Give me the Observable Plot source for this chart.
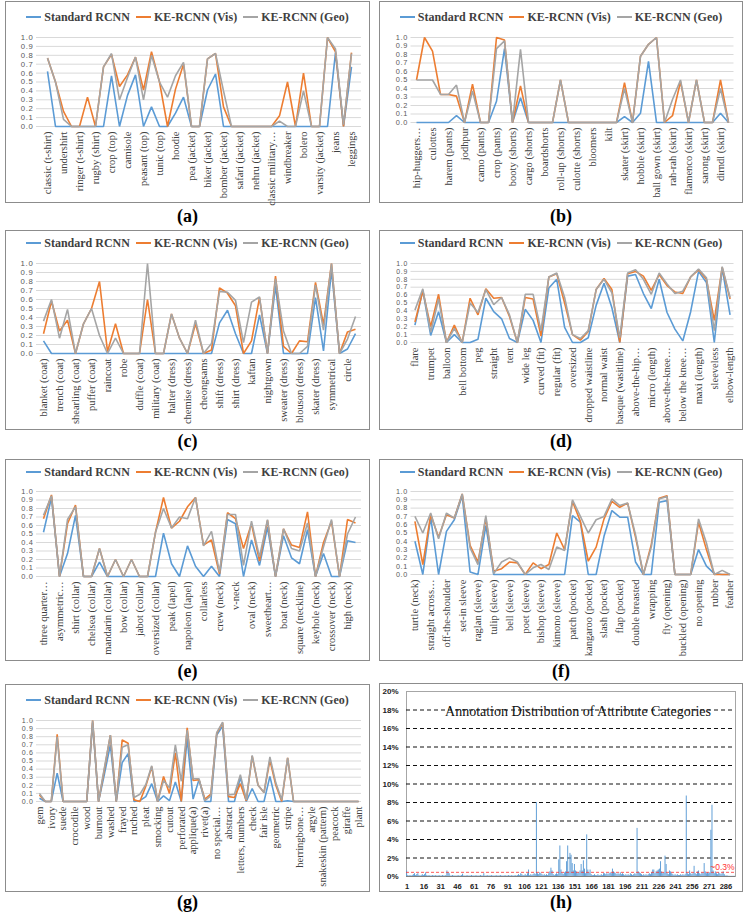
<!DOCTYPE html>
<html><head><meta charset="utf-8">
<script src="https://cdn.jsdelivr.net/npm/d3@7"></script>
<script src="https://cdn.jsdelivr.net/npm/@observablehq/plot@0.6"></script>
<style>
html,body{margin:0;padding:0;background:#fff;}
#page{position:relative;width:747px;height:914px;overflow:hidden;background:#fff;}
.box{position:absolute;border:1.5px solid #8c8c8c;box-sizing:border-box;}
.cap{position:absolute;font:bold 18px "Liberation Serif","Times New Roman",serif;color:#000;text-align:center;line-height:18px;}
.legend{position:absolute;display:flex;justify-content:center;align-items:center;font:bold 12px "Liberation Serif","Times New Roman",serif;color:#404040;white-space:nowrap;line-height:14px;}
.legend .it{display:flex;align-items:center;margin:0 3px;}
.legend .sw{display:inline-block;width:15px;height:2px;margin-right:3px;}
</style>
</head><body><div id="page"></div>
<script>
// ---------- data ----------
const seriesNames = ["Standard RCNN", "KE-RCNN (Vis)", "KE-RCNN (Geo)"];
const seriesColors = ["#5b9bd5", "#ed7d31", "#a5a5a5"];
const yTicks = [0,0.1,0.2,0.3,0.4,0.5,0.6,0.7,0.8,0.9,1.0];

// (a)
const namesA = ["classic (t-shirt)","polo (shirt)","undershirt","henley (shirt)","ringer (t-shirt)","raglan (t-shirt)","rugby (shirt)","sailor (shirt)","crop (top)","halter (top)","camisole","tank (top)","peasant (top)","tube (top)","tunic (top)","smock (top)","hoodie","blazer","pea (jacket)","puffer (jacket)","biker (jacket)","trucker (jacket)","bomber (jacket)","anorak","safari (jacket)","mao (jacket)","nehru (jacket)","norfolk (jacket)","classic military…","track (jacket)","windbreaker","chanel (jacket)","bolero","tuxedo (jacket)","varsity (jacket)","crop (jacket)","jeans","sweatpants","leggings"];
const stdA = [0.62,0,0,0,0,0,0,0,0.57,0,0.35,0.58,0,0.22,0,0,0.15,0.33,0,0,0.41,0.59,0,0,0,0,0,0,0,0,0,0,0,0,0,0,0.83,0,0.67];
const visA = [0.77,0.5,0.17,0,0,0.33,0,0.67,0.81,0.45,0.58,0.78,0.41,0.84,0.5,0,0.42,0.7,0,0,0.76,0.82,0.22,0,0,0,0,0,0,0.12,0.5,0,0.6,0,0,1.0,0.84,0,0.83];
const geoA = [0.77,0.5,0.08,0,0,0,0,0.67,0.82,0.3,0.55,0.78,0.3,0.8,0.5,0.33,0.57,0.72,0,0,0.76,0.82,0.4,0,0,0,0,0,0,0.06,0,0,0.4,0,0,1.0,0.87,0.02,0.82];

// (b)
const namesB = ["hip-huggers…","cargo (pants)","culottes","capri (pants)","harem (pants)","sailor (pants)","jodhpur","peg (pants)","camo (pants)","track (pants)","crop (pants)","short (shorts)","booty (shorts)","bermuda (shorts)","cargo (shorts)","trunks","boardshorts","hot (pants)","roll-up (shorts)","denim (shorts)","culotte (shorts)","bike (shorts)","bloomers","skort","kilt","pencil (skirt)","skater (skirt)","slip (skirt)","hobble (skirt)","tiered (skirt)","ball gown (skirt)","gypsy (skirt)","rah-rah (skirt)","prairie (skirt)","flamenco (skirt)","accordion (skirt)","sarong (skirt)","tulip (skirt)","dirndl (skirt)","tutu (skirt)"];
const stdB = [0,0,0,0,0,0.08,0,0,0,0,0.25,0.87,0,0.29,0,0,0,0,0,0,0,0,0,0,0,0,0.07,0,0.11,0.72,0,0,0,0,0,0,0,0,0.11,0];
const visB = [0.5,1.0,0.84,0.33,0.33,0.31,0,0.45,0,0,1.0,0.97,0,0.43,0,0,0,0,0.5,0,0,0,0,0,0,0,0.47,0,0.78,0.92,1.0,0,0.08,0.48,0,0.5,0,0,0.5,0];
const geoB = [0.5,0.5,0.5,0.33,0.33,0.44,0,0.37,0,0,0.87,0.96,0,0.86,0,0,0,0,0.5,0,0,0,0,0,0,0,0.4,0,0.78,0.92,1.0,0,0.27,0.5,0,0.5,0,0,0.4,0];

// (c)
const namesC = ["blanket (coat)","teddy bear (coat)","trench (coat)","parka","shearling (coat)","crombie (coat)","puffer (coat)","polo (coat)","raincoat","cape","robe","wrap (coat)","duffle (coat)","cocoon (coat)","military (coat)","sheath (dress)","halter (dress)","wrap (dress)","chemise (dress)","slip (dress)","cheongsams","tea (dress)","shift (dress)","tunic (dress)","shirt (dress)","bodycon (dress)","kaftan","jumper (dress)","nightgown","sundress","sweater (dress)","tube (dress)","blouson (dress)","empire (dress)","skater (dress)","tent (dress)","symmetrical","asymmetrical","circle","peplum"];
const stdC = [0.14,0,0,0,0,0,0,0,0,0,0,0,0,0,0,0,0,0,0,0,0,0,0.34,0.48,0.22,0,0,0.43,0,0.75,0,0,0,0,0.62,0.03,0.93,0,0.05,0.22];
const visC = [0.22,0.58,0.25,0.37,0,0.33,0.5,0.8,0.02,0.33,0,0,0,0.6,0,0,0.44,0.17,0,0.33,0,0.04,0.73,0.67,0.53,0,0.14,0.62,0,0.86,0.08,0,0.14,0.13,0.79,0.32,1.0,0,0.24,0.27];
const geoC = [0.36,0.6,0.17,0.49,0,0.33,0.5,0.2,0,0.17,0,0,0,1.0,0,0,0.44,0.17,0,0.37,0,0.11,0.69,0.68,0.59,0.12,0.57,0.63,0,0.83,0.25,0,0,0.08,0.76,0.26,1.0,0,0.16,0.41];

// (d)
const namesD = ["flare","fit and flare","trumpet","mermaid","balloon","bell","bell bottom","bootcut","peg","pencil","straight","a-line","tent","baggy","wide leg","high low","curved (fit)","tight (fit)","regular (fit)","loose (fit)","oversized","empire waistline","dropped waistline","high waist","normal waist","low waist","basque (wasitline)","no waistline","above-the-hip…","hip (length)","micro (length)","mini (length)","above-the-knee…","knee (length)","below the knee…","midi","maxi (length)","floor (length)","sleeveless","short (length)","elbow-length"];
const stdD = [0.22,0.66,0.09,0.39,0,0.1,0,0,0.04,0.56,0.39,0.3,0.05,0,0.42,0.28,0,0.69,0.8,0.19,0,0,0.06,0.47,0.75,0.44,0,0.84,0.86,0.62,0.43,0.8,0.38,0.17,0.02,0.39,0.9,0.76,0,0.94,0.35];
const visD = [0.26,0.65,0.2,0.61,0,0.22,0,0.56,0.35,0.68,0.56,0.57,0.33,0,0.57,0.55,0.08,0.83,0.87,0.5,0.1,0.03,0.14,0.67,0.81,0.67,0,0.87,0.9,0.84,0.66,0.86,0.72,0.64,0.62,0.83,0.92,0.8,0.28,0.95,0.55];
const geoD = [0.41,0.68,0.13,0.55,0,0.18,0,0.5,0.38,0.67,0.48,0.57,0.35,0,0.61,0.61,0.15,0.83,0.88,0.57,0.1,0.05,0.15,0.67,0.8,0.63,0.06,0.88,0.92,0.8,0.61,0.88,0.74,0.62,0.65,0.83,0.93,0.82,0.15,0.96,0.57];

// (e)
const namesE = ["three quarter…","wrist-length","asymmetric…","regular (collar)","shirt (collar)","polo (collar)","chelsea (collar)","banded (collar)","mandarin (collar)","peter pan (collar)","bow (collar)","stand-away (collar)","jabot (collar)","sailor (collar)","oversized (collar)","notched (lapel)","peak (lapel)","shawl (lapel)","napoleon (lapel)","oversized (lapel)","collarless","asymmetric (neckline)","crew (neck)","round (neck)","v-neck","surplice (neck)","oval (neck)","u-neck","sweetheart…","queen anne (neck)","boat (neck)","scoop (neck)","square (neckline)","plunging (neckline)","keyhole (neck)","halter (neck)","crossover (neck)","choker (neck)","high (neck)","cowl (neck)"];
const stdE = [0.52,0.93,0,0.27,0.72,0,0,0.17,0,0,0,0,0,0,0,0.51,0.15,0,0.36,0.12,0,0.12,0,0.67,0.62,0,0.43,0.13,0.58,0,0.48,0.22,0.15,0.55,0,0.27,0,0,0.42,0.4];
const visE = [0.68,0.96,0,0.62,0.84,0,0,0.33,0,0.2,0,0.2,0,0,0.52,0.93,0.57,0.65,0.82,0.93,0.37,0.43,0.03,0.75,0.68,0.33,0.62,0.18,0.66,0,0.56,0.37,0.34,0.76,0,0.4,0.65,0,0.67,0.63];
const geoE = [0.72,0.95,0,0.67,0.82,0,0,0.33,0,0.2,0,0.2,0,0,0.52,0.8,0.57,0.7,0.68,0.93,0.36,0.53,0.05,0.73,0.73,0.13,0.65,0.23,0.67,0,0.56,0.33,0.3,0.63,0,0.35,0.67,0,0.5,0.7];

// (f)
const namesF = ["turtle (neck)","one shoulder","straight across…","illusion (neck)","off-the-shoulder","cold shoulder","set-in sleeve","dropped-shoulder sleeve","raglan (sleeve)","cap (sleeve)","tulip (sleeve)","puff (sleeve)","bell (sleeve)","circular flounce (sleeve)","poet (sleeve)","dolman (sleeve)","bishop (sleeve)","leg of mutton (sleeve)","kimono (sleeve)","cargo (pocket)","patch (pocket)","welt (pocket)","kangaroo (pocket)","seam (pocket)","slash (pocket)","curved (pocket)","flap (pocket)","single breasted","double breasted","lace up","wrapping","zip-up","fly (opening)","chained (opening)","buckled (opening)","toggled (opening)","no opening","plastic","rubber","metal","feather"];
const stdF = [0.4,0,0.69,0,0.52,0.66,0.95,0.03,0,0.59,0,0,0,0,0,0,0,0,0,0,0.71,0.63,0,0,0.46,0.77,0.69,0.69,0.15,0,0,0.87,0.89,0,0,0,0.3,0.1,0.01,0,0];
const visF = [0.64,0.12,0.72,0.45,0.72,0.68,0.97,0.35,0.15,0.68,0.04,0.07,0.15,0.14,0,0.14,0.07,0.12,0.5,0.3,0.88,0.64,0.16,0.33,0.67,0.88,0.81,0.86,0.45,0,0.36,0.92,0.95,0,0,0,0.63,0.3,0,0,0];
const geoF = [0.7,0.5,0.74,0.43,0.74,0.68,0.97,0.32,0.12,0.71,0.01,0.15,0.2,0.15,0,0.08,0.12,0.06,0.33,0.29,0.9,0.7,0.5,0.66,0.7,0.91,0.83,0.86,0.48,0,0.33,0.91,0.94,0,0,0,0.67,0.38,0,0.05,0];

// (g)
const namesG = ["gem","bone","ivory","fur","suede","shearling","crocodile","snakeskin","wood","non-textile material","burnout","distressed","washed","embossed","frayed","printed","ruched","quilted","pleat","gathering","smocking","tiered","cutout","slit","perforated","lining","applique(a)","bead(a)","rivet(a)","sequin(a)","no special…","plain (pattern)","abstract","cartoon","letters, numbers","camouflage","check","dot","fair isle","floral","geometric","paisley","stripe","houndstooth (pattern)","herringbone…","chevron","argyle","leopard","snakeskin (pattern)","cheetah","peacock","zebra","giraffe","toile de jouy","plant"];
const stdG = [0.04,0,0,0.35,0,0,0,0,0,0.97,0,0.34,0.7,0,0.48,0.59,0,0.01,0.06,0.22,0,0.07,0.01,0.24,0,0.78,0.03,0.27,0,0,0.82,0.93,0,0,0.3,0,0.16,0,0,0.31,0,0,0.01,0,0,0,0,0,0,0,0,0,0,0,0];
const visG = [0.08,0,0,0.83,0,0,0,0,0,1.0,0,0.4,0.82,0,0.76,0.72,0.02,0,0.19,0.43,0,0.31,0.1,0.6,0,0.91,0.26,0.27,0.03,0.09,0.84,0.97,0.06,0.05,0.22,0.01,0.56,0.2,0.11,0.51,0.2,0,0.54,0,0,0,0,0,0,0,0,0,0,0,0];
const geoG = [0.1,0,0,0.8,0,0,0,0,0,1.0,0,0.42,0.82,0,0.67,0.7,0.05,0.09,0.21,0.44,0,0.26,0.17,0.7,0.25,0.88,0.28,0.28,0.01,0.07,0.85,0.98,0.08,0.09,0.33,0.02,0.57,0.2,0.11,0.55,0.23,0.02,0.54,0,0,0,0,0,0,0,0,0,0,0,0];

// (h) annotation distribution (%), categories 1..294
const hTitle = "Annotation Distribution of Attribute Categories";
const hYTicks = [0,2,4,6,8,10,12,14,16,18,20];
const hGrid = [2,4,6,8,10,12,14,16,18];
const hXTicks = [1,16,31,46,61,76,91,106,121,136,151,166,181,196,211,226,241,256,271,286];
const hThreshold = 0.45;
const hThresholdLabel = "~0.3%";
const hVals = [
 0.6,0.1,0.05,0.1,0.05,0.1,0.2,0.3,0.1,0.2,0.3,0.1,0.05,0.1,0.2,
 0.1,0.2,0.4,0.1,0.05,0.1,0.05,0.05,0.1,0.05,0.05,0.1,0.05,0.05,0.1,
 0.05,0.05,0.1,0.05,0.05,0.1,0.6,0.4,0.3,0.05,0.05,0.1,0.05,0.05,0.05,
 0.05,0.1,0.05,0.05,0.1,0.25,0.05,0.05,0.05,0.1,0.05,0.05,0.05,0.1,0.05,
 0.05,0.05,0.1,0.05,0.05,0.05,0.1,0.05,0.05,0.3,0.05,0.05,0.1,0.05,0.05,
 0.05,0.1,0.05,0.05,0.05,0.1,0.05,0.05,0.05,0.1,0.05,0.05,0.05,0.1,0.05,
 0.05,0.1,0.05,0.05,0.1,0.05,0.05,0.1,0.05,0.1,0.2,0.1,0.3,0.2,0.1,
 0.1,0.2,0.1,0.3,0.7,0.1,0.2,0.1,0.2,0.3,0.2,8.0,0.3,0.2,0.4,
 0.3,0.2,0.1,0.2,0.1,0.2,0.1,0.3,0.5,0.9,0.6,0.2,0.1,0.2,0.3,
 0.2,1.8,3.3,0.7,0.3,0.2,0.4,0.5,1.6,3.3,0.5,2.5,2.3,1.4,0.6,
 1.3,0.6,0.5,0.3,0.4,0.6,1.3,0.6,1.7,0.8,0.3,4.5,0.7,0.4,0.7,
 0.2,0.1,0.1,0.2,0.1,0.1,0.2,0.1,0.1,0.2,0.1,0.3,0.3,0.2,0.3,
 0.2,0.3,0.4,0.3,0.8,0.5,0.4,0.3,0.2,0.3,0.2,0.4,0.2,0.3,0.2,
 0.1,0.2,0.1,0.2,0.1,0.3,0.2,0.1,0.2,0.3,0.2,5.2,0.5,0.4,0.3,
 0.2,0.1,0.2,0.1,0.2,0.1,0.2,0.3,0.2,0.4,0.7,0.7,0.3,0.5,0.6,
 0.7,0.8,1.6,0.5,0.3,0.4,2.2,1.3,0.3,0.2,0.6,0.5,0.3,0.2,0.1,
 0.2,0.1,0.2,0.1,0.1,0.2,0.1,0.2,0.1,0.2,8.7,0.3,0.2,0.6,0.3,
 0.2,0.3,1.1,0.3,0.2,0.5,0.6,0.3,0.2,0.4,0.3,1.4,0.5,0.3,0.4,
 0.3,0.4,5.0,7.7,0.6,0.3,0.5,0.3,0.2,0.4,0.3,0.2,0.3,0.5,0.2,
 0.05,0.05,0.05,0.02,0.02,0.02,0.02,0.02,0.02
];
const hCats = hVals.map((d, i) => i + 1);

// ---------- layout ----------
const page = document.getElementById("page");
const SERIF = "'Liberation Serif','Times New Roman',serif";
const SANS = "'Liberation Sans',Arial,sans-serif";

const panels = [
  {cap:"(a)", names:namesA, vals:[stdA,visA,geoA], left:5, width:365, top:1, bottom:203, leg:17, y1:37, y0:126, capY:216},
  {cap:"(b)", names:namesB, vals:[stdB,visB,geoB], left:379, width:364, top:1, bottom:203, leg:17, y1:37, y0:122, capY:216},
  {cap:"(c)", names:namesC, vals:[stdC,visC,geoC], left:5, width:365, top:230, bottom:430, leg:243, y1:263, y0:353, capY:441},
  {cap:"(d)", names:namesD, vals:[stdD,visD,geoD], left:379, width:364, top:230, bottom:430, leg:243, y1:263, y0:342, capY:441},
  {cap:"(e)", names:namesE, vals:[stdE,visE,geoE], left:5, width:365, top:459, bottom:661, leg:472, y1:491, y0:576, capY:671},
  {cap:"(f)", names:namesF, vals:[stdF,visF,geoF], left:379, width:364, top:459, bottom:661, leg:472, y1:491, y0:574, capY:671},
  {cap:"(g)", names:namesG, vals:[stdG,visG,geoG], left:5, width:365, top:684, bottom:892, leg:700, y1:720, y0:801, capY:902}
];

function addBox(left, top, width, height){
  const b = document.createElement("div");
  b.className = "box";
  Object.assign(b.style, {left:left+"px", top:top+"px", width:width+"px", height:height+"px"});
  page.appendChild(b);
}
function addCap(text, left, width, cy){
  const c = document.createElement("div");
  c.className = "cap";
  c.textContent = text;
  Object.assign(c.style, {left:left+"px", width:width+"px", top:(cy-9)+"px"});
  page.appendChild(c);
}

for (const p of panels) {
  addBox(p.left, p.top, p.width, p.bottom - p.top);
  const lg = document.createElement("div");
  lg.className = "legend";
  Object.assign(lg.style, {left:p.left+"px", width:p.width+"px", top:(p.leg-7)+"px"});
  seriesNames.forEach((s, k) => {
    const it = document.createElement("span"); it.className = "it";
    const sw = document.createElement("span"); sw.className = "sw"; sw.style.background = seriesColors[k];
    const tx = document.createElement("span"); tx.textContent = s;
    it.appendChild(sw); it.appendChild(tx); lg.appendChild(it);
  });
  page.appendChild(lg);

  const idx = p.names.map((d, i) => i);
  const even = idx.filter(i => i % 2 === 0);
  const mt = 10, mb = 90;
  const isLeft = p.left < 100;
  const ml = isLeft ? 31 : 31.5;
  const mr = isLeft ? 9 : 9.5;
  const yFont = Math.min(7.8, (p.y0 - p.y1) / 10 / 1.15);
  const rows = [];
  p.vals.forEach((arr, k) => arr.forEach((v, i) => rows.push({s: seriesNames[k], i, v})));
  const svg = Plot.plot({
    width: p.width,
    height: (p.y0 - p.y1) + mt + mb,
    marginLeft: ml, marginRight: mr, marginTop: mt, marginBottom: mb,
    style: {background: "transparent", overflow: "visible"},
    x: {type: "point", domain: idx, padding: 0.5},
    y: {domain: [0, 1]},
    color: {domain: seriesNames, range: seriesColors},
    marks: [
      Plot.gridY({ticks: yTicks, stroke: "#d9d9d9", strokeOpacity: 1, strokeWidth: 1}),
      Plot.axisY({ticks: yTicks, tickFormat: d => d.toFixed(1), tickSize: 0, tickPadding: 3,
                  fontSize: yFont, fontFamily: SANS, fill: "#595959", label: null}),
      Plot.axisX({ticks: even, tickFormat: i => p.names[i], tickRotate: -90, tickSize: 0, tickPadding: 5,
                  fontSize: 10.5, fontFamily: SERIF, fill: "#404040", label: null}),
      Plot.line(rows, {x: "i", y: "v", z: "s", stroke: "s", strokeWidth: 1.6, strokeLinejoin: "miter", strokeLinecap: "butt"})
    ]
  });
  svg.querySelectorAll('g[aria-label="y-axis tick label"] text').forEach(t => { t.style.letterSpacing = "0.7px"; });
  Object.assign(svg.style, {position: "absolute", left: p.left + "px", top: (p.y1 - mt) + "px"});
  page.appendChild(svg);
  addCap(p.cap, p.left, p.width, p.capY);
}

// ---------- panel (h) ----------
addBox(379, 683, 364, 209);
const hsvg = Plot.plot({
  width: 364, height: 209,
  marginLeft: 27, marginRight: 8, marginTop: 8, marginBottom: 16,
  style: {background: "transparent", overflow: "visible"},
  x: {type: "band", domain: hCats, padding: 0.15},
  y: {domain: [0, 20]},
  marks: [
    Plot.frame({stroke: "#a6a6a6"}),
    Plot.ruleY(hGrid, {stroke: "#111", strokeDasharray: "4,3", strokeWidth: 1}),
    Plot.barY(hVals, {x: (d, i) => hCats[i], y: d => d, fill: "#5b9bd5"}),
    Plot.ruleY([0], {stroke: "#808080"}),
    Plot.ruleY([hThreshold], {stroke: "#ff3030", strokeDasharray: "3,2", strokeWidth: 0.8}),
    Plot.text([hThresholdLabel], {x: () => 272, y: () => 0.95, text: d => d, textAnchor: "start", fill: "#ff3030", fontSize: 8.5, fontFamily: SANS}),
    Plot.text([hTitle], {frameAnchor: "top", dy: 15, dx: 7, text: d => d, fontSize: 14, fontFamily: SERIF, fill: "#111"}),
    Plot.axisY({ticks: hYTicks, tickFormat: d => d + "%", tickSize: 0, tickPadding: 8, fontSize: 8, fontWeight: "bold", fontFamily: SANS, fill: "#222", label: null}),
    Plot.axisX({ticks: hXTicks, tickSize: 0, tickPadding: 7, fontSize: 7.5, fontWeight: "bold", fontFamily: SANS, fill: "#222", label: null})
  ]
});
Object.assign(hsvg.style, {position: "absolute", left: "379px", top: "683px"});
page.appendChild(hsvg);
addCap("(h)", 379, 364, 902);
</script>
</body></html>
